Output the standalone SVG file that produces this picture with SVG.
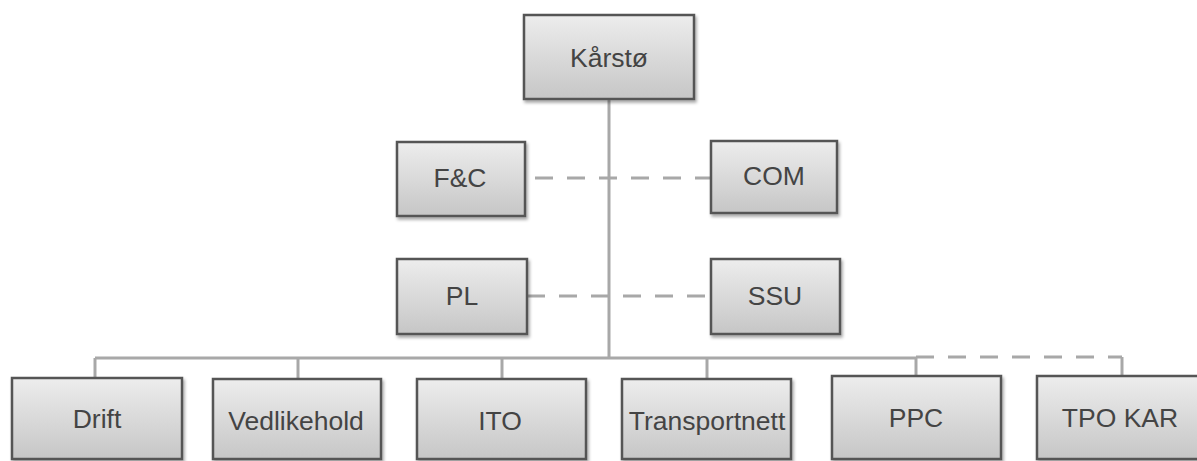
<svg xmlns="http://www.w3.org/2000/svg" width="1197" height="461" viewBox="0 0 1197 461">
<defs>
<linearGradient id="g" x1="0" y1="0" x2="0" y2="1">
<stop offset="0" stop-color="#ededed"/>
<stop offset="1" stop-color="#c6c6c6"/>
</linearGradient>
<filter id="sh" x="-10%" y="-10%" width="125%" height="130%">
<feDropShadow dx="1.5" dy="2.5" stdDeviation="1.5" flood-color="#000" flood-opacity="0.35"/>
</filter>
</defs>
<style>
.box{fill:url(#g);stroke:#555;stroke-width:2.5;filter:url(#sh)}
.lbl{font-family:"Liberation Sans",Arial,sans-serif;font-size:26.5px;fill:#444;text-anchor:middle}
.ln{stroke:#a8a8a8;stroke-width:3;fill:none}
.dash{stroke:#a8a8a8;stroke-width:3;fill:none;stroke-dasharray:18 14}
</style>
<rect width="1197" height="461" fill="#fff"/>
<g id="connectors">
<line class="ln" x1="609" y1="99" x2="609" y2="358"/>
<line class="dash" x1="535" y1="178" x2="710" y2="178"/>
<line class="dash" x1="527" y1="296" x2="711" y2="296"/>
<line class="ln" x1="95" y1="358" x2="916" y2="358"/>
<line class="dash" x1="916" y1="357" x2="1122" y2="357"/>
<line class="ln" x1="1122" y1="357" x2="1122" y2="376"/>
<line class="ln" x1="95" y1="358" x2="95" y2="378"/>
<line class="ln" x1="298" y1="358" x2="298" y2="378"/>
<line class="ln" x1="502" y1="358" x2="502" y2="378"/>
<line class="ln" x1="707" y1="358" x2="707" y2="378"/>
<line class="ln" x1="916" y1="358" x2="916" y2="376"/>
</g>
<g id="karsto"><rect class="box" x="524" y="15" width="170" height="84"/><text class="lbl" x="609" y="67">Kårstø</text></g>
<g id="fc"><rect class="box" x="397" y="142" width="128" height="74"/><text class="lbl" x="460" y="187">F&amp;C</text></g>
<g id="com"><rect class="box" x="711" y="141" width="126" height="72"/><text class="lbl" x="774" y="185">COM</text></g>
<g id="pl"><rect class="box" x="397" y="259" width="130" height="75"/><text class="lbl" x="462" y="305">PL</text></g>
<g id="ssu"><rect class="box" x="711" y="259" width="129" height="75"/><text class="lbl" x="775" y="305">SSU</text></g>
<g id="drift"><rect class="box" x="12" y="378" width="170" height="81"/><text class="lbl" x="97" y="428">Drift</text></g>
<g id="vedlikehold"><rect class="box" x="213" y="379" width="168" height="80"/><text class="lbl" x="296" y="430">Vedlikehold</text></g>
<g id="ito"><rect class="box" x="417" y="379" width="169" height="80"/><text class="lbl" x="500" y="430">ITO</text></g>
<g id="transportnett"><rect class="box" x="622" y="379" width="169" height="80"/><text class="lbl" x="707" y="430">Transportnett</text></g>
<g id="ppc"><rect class="box" x="832" y="376" width="169" height="83"/><text class="lbl" x="916" y="427">PPC</text></g>
<g id="tpokar"><rect class="box" x="1037" y="376" width="170" height="83"/><text class="lbl" x="1120" y="427">TPO KAR</text></g>
</svg>
